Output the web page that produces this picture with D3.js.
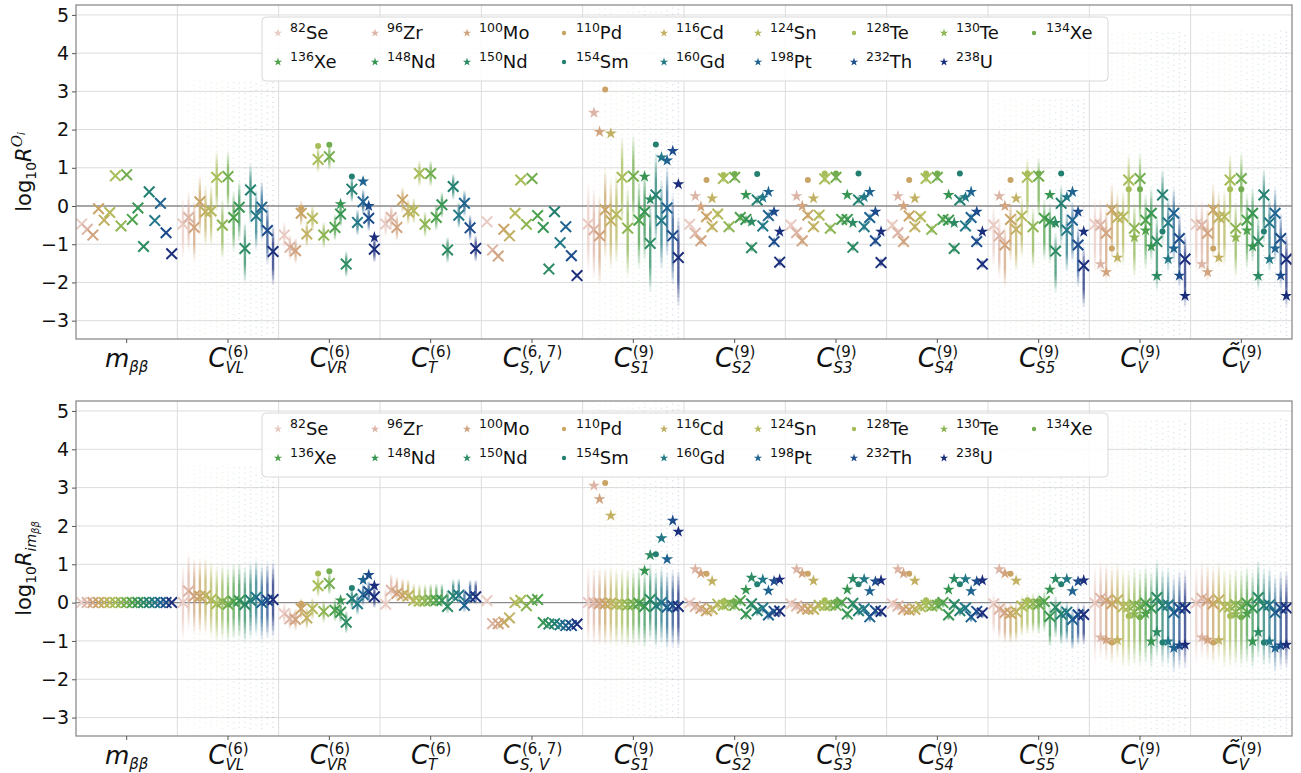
<!DOCTYPE html>
<html><head><meta charset="utf-8">
<script src="https://cdn.jsdelivr.net/npm/d3@7"></script>
<style>body{margin:0;background:#fff}svg{display:block}text{font-family:"DejaVu Sans",sans-serif;fill:#111}</style>
</head><body><svg id="c" width="1301" height="773"></svg>
<script>
// ---------- data ----------
const massNumbers = ["82","96","100","110","116","124","128","130","134","136","148","150","154","160","198","232","238"];
const elements    = ["Se","Zr","Mo","Pd","Cd","Sn","Te","Te","Xe","Xe","Nd","Nd","Sm","Gd","Pt","Th","U"];
const markerKinds = ["star","star","star","dot","star","star","dot","star","dot","star","star","star","dot","star","star","star","star"];
const isoColors   = ["#e9cbc3","#ddb5a6","#d1a47f","#c9a466","#c2b163","#b5b95b","#a6bd58","#8db552","#72ae4f","#4fa24c","#379552","#2c8b62","#238070","#227887","#1f6390","#1d4c8c","#1a2e7c"];
const operatorLabels = [
  {base:"m", sub:"ββ"},
  {base:"C", sup:"(6)", sub:"VL"},
  {base:"C", sup:"(6)", sub:"VR"},
  {base:"C", sup:"(6)", sub:"T"},
  {base:"C", sup:"(6, 7)", sub:"S, V"},
  {base:"C", sup:"(9)", sub:"S1"},
  {base:"C", sup:"(9)", sub:"S2"},
  {base:"C", sup:"(9)", sub:"S3"},
  {base:"C", sup:"(9)", sub:"S4"},
  {base:"C", sup:"(9)", sub:"S5"},
  {base:"C", sup:"(9)", sub:"V"},
  {base:"C\u0303", sup:"(9)", sub:"V"}
];
const yTicks = [-3,-2,-1,0,1,2,3,4,5];

// top panel: log10 R^{O_i}
const topMedians = [
  [-0.47,-0.61,-0.76,-0.07,-0.37,-0.17,0.79,-0.52,0.82,-0.35,-0.05,-1.06,0.37,-0.38,0.07,-0.70,-1.25],
  [-0.47,-0.30,-0.56,0.11,-0.15,-0.13,0.75,-0.50,0.77,-0.30,-0.03,-1.11,0.42,-0.26,-0.03,-0.64,-1.19],
  [-0.76,-1.08,-1.17,-0.19,-0.73,-0.32,1.22,-0.76,1.29,-0.56,-0.21,-1.52,0.44,-0.43,0.11,-0.32,-1.13],
  [-0.47,-0.30,-0.56,0.16,-0.15,-0.12,0.85,-0.48,0.85,-0.30,0.03,-1.15,0.51,-0.24,0.07,-0.57,-1.11],
  [-0.41,-1.15,-1.31,-0.61,-0.78,-0.19,0.68,-0.48,0.72,-0.25,-0.56,-1.65,-0.15,-0.96,-0.54,-1.30,-1.82],
  [-0.47,-0.62,-0.78,-0.10,-0.38,-0.22,0.75,-0.58,0.78,-0.37,-0.15,-0.98,0.29,-0.38,-0.05,-0.78,-1.35],
  [-0.48,-0.71,-0.91,-0.28,-0.54,-0.21,0.72,-0.54,0.75,-0.30,-0.35,-1.09,0.16,-0.52,-0.25,-0.93,-1.47],
  [-0.50,-0.70,-0.91,-0.24,-0.54,-0.24,0.71,-0.58,0.75,-0.35,-0.35,-1.08,0.16,-0.54,-0.30,-0.91,-1.48],
  [-0.50,-0.70,-0.93,-0.26,-0.54,-0.28,0.72,-0.61,0.75,-0.35,-0.37,-1.11,0.16,-0.52,-0.30,-0.93,-1.52],
  [-0.50,-0.78,-1.02,-0.35,-0.61,-0.26,0.75,-0.54,0.78,-0.32,-0.41,-1.18,0.07,-0.63,-0.37,-1.02,-1.56],
  [-0.48,-0.50,-0.71,-0.10,-0.30,-0.28,0.68,-0.58,0.72,-0.37,-0.19,-0.93,0.29,-0.44,-0.19,-0.85,-1.39],
  [-0.48,-0.50,-0.71,-0.10,-0.30,-0.28,0.68,-0.58,0.72,-0.37,-0.19,-0.93,0.29,-0.44,-0.19,-0.85,-1.39]
];
const topStars = [
  null, null,
  [null,null,null,-0.05,null,null,1.57,null,1.60,null,0.05,null,0.77,null,0.64,0.00,-0.82],
  null, null,
  [null,2.44,1.94,3.05,1.90,null,null,null,null,null,0.77,0.17,1.61,1.27,1.19,1.44,0.57],
  [null,0.26,-0.02,0.68,0.20,null,0.81,null,0.84,null,0.29,-0.41,0.84,0.22,0.37,-0.15,-0.67],
  [null,0.26,0.00,0.68,0.20,null,0.85,null,0.85,null,0.29,-0.44,0.85,0.23,0.37,-0.15,-0.67],
  [null,0.26,0.00,0.68,0.20,null,0.85,null,0.85,null,0.29,-0.44,0.85,0.23,0.37,-0.15,-0.67],
  [null,0.26,0.00,0.68,0.20,null,0.85,null,0.85,null,0.29,-0.44,0.85,0.23,0.37,-0.15,-0.67],
  [null,-1.52,-1.73,-1.11,-1.35,null,0.44,-0.82,0.44,-0.64,-1.06,-1.83,-0.67,-1.39,-1.11,-1.82,-2.35],
  [null,-1.52,-1.73,-1.11,-1.35,null,0.44,-0.82,0.44,-0.64,-1.06,-1.83,-0.67,-1.39,-1.11,-1.82,-2.35]
];
const topSpreadDown = [0,0.9,0.35,0.35,0.05,1.3,0.12,0.12,0.12,1.1,1.3,1.3];
const topSpreadUp   = [0,0.7,0.35,0.35,0.05,1.1,0.12,0.12,0.12,0.5,0.7,0.7];
const topCloudLo = [null,-3.4,null,null,null,-3.5,null,null,null,-3.4,-3.4,-3.4];
const topCloudHi = [null,3.3,null,null,null,5.2,null,null,null,2.8,4.6,4.6];

// bottom panel: log10 R_{i m_bb}
const botMedians = [
  [0,0,0,0,0,0,0,0,0,0,0,0,0,0,0,0,0],
  [0.00,0.30,0.17,0.16,0.18,0.08,-0.03,0.02,-0.04,0.03,0.05,-0.05,0.06,0.14,0.00,0.06,0.08],
  [-0.29,-0.42,-0.44,-0.16,-0.40,-0.16,0.44,-0.23,0.50,-0.20,-0.25,-0.51,0.10,-0.03,0.21,0.28,0.15],
  [-0.04,0.32,0.24,0.19,0.17,0.06,0.04,0.04,0.06,0.06,0.06,-0.10,0.17,0.19,-0.07,0.15,0.15],
  [0.05,-0.55,-0.55,-0.51,-0.40,0.00,0.06,-0.08,0.06,0.08,-0.52,-0.56,-0.55,-0.58,-0.60,-0.60,-0.56],
  [0.00,-0.01,-0.02,-0.03,-0.01,-0.05,-0.04,-0.06,-0.04,-0.02,-0.10,0.08,-0.08,0.00,-0.12,-0.08,-0.10],
  [-0.01,-0.10,-0.15,-0.21,-0.17,-0.04,-0.07,-0.02,-0.07,0.05,-0.30,-0.03,-0.21,-0.14,-0.32,-0.23,-0.22],
  [-0.03,-0.09,-0.15,-0.17,-0.17,-0.07,-0.08,-0.06,-0.07,0.00,-0.30,-0.02,-0.21,-0.16,-0.37,-0.21,-0.23],
  [-0.03,-0.09,-0.17,-0.19,-0.17,-0.11,-0.07,-0.09,-0.07,0.00,-0.32,-0.05,-0.21,-0.14,-0.37,-0.23,-0.27],
  [-0.03,-0.17,-0.26,-0.28,-0.24,-0.09,-0.04,-0.02,-0.04,0.03,-0.36,-0.12,-0.30,-0.25,-0.44,-0.32,-0.31],
  [-0.01,0.11,0.05,-0.03,0.07,-0.11,-0.11,-0.06,-0.10,-0.02,-0.14,0.13,-0.08,-0.06,-0.26,-0.15,-0.14],
  [-0.01,0.11,0.05,-0.03,0.07,-0.11,-0.11,-0.06,-0.10,-0.02,-0.14,0.13,-0.08,-0.06,-0.26,-0.15,-0.14]
];
const botStars = [
  null, null,
  [null,null,null,-0.03,null,null,0.76,null,0.82,null,0.06,null,0.38,null,0.59,0.72,0.44],
  null, null,
  [null,3.05,2.70,3.12,2.27,null,null,null,null,null,0.83,1.24,1.26,1.68,1.13,2.14,1.85],
  [null,0.87,0.76,0.75,0.56,null,0.02,null,0.02,null,0.33,0.65,0.48,0.60,0.31,0.56,0.60],
  [null,0.87,0.76,0.75,0.57,null,0.06,null,0.03,null,0.34,0.62,0.48,0.61,0.30,0.55,0.58],
  [null,0.87,0.76,0.75,0.57,null,0.06,null,0.03,null,0.34,0.62,0.48,0.61,0.30,0.55,0.58],
  [null,0.87,0.76,0.75,0.57,null,0.06,null,0.03,null,0.34,0.62,0.48,0.61,0.30,0.55,0.58],
  [null,-0.91,-0.97,-1.04,-0.98,null,-0.35,-0.30,-0.38,-0.29,-1.01,-0.77,-1.04,-1.01,-1.18,-1.12,-1.10],
  [null,-0.91,-0.97,-1.04,-0.98,null,-0.35,-0.30,-0.38,-0.29,-1.01,-0.77,-1.04,-1.01,-1.18,-1.12,-1.10]
];
const botSpreadDown = [0,1.0,0.3,0.2,0.05,1.1,0.15,0.15,0.15,0.8,1.6,1.6];
const botSpreadUp   = [0,1.0,0.3,0.45,0.05,0.95,0.1,0.1,0.1,0.3,1.0,1.0];
const botCloudLo = [null,-3.3,null,null,null,-3.0,null,null,null,-2.0,-3.4,-3.4];
const botCloudHi = [null,3.6,null,null,null,5.2,null,null,null,4.0,4.8,4.8];

// ---------- drawing ----------
const svg = d3.select("#c");
const defs = svg.append("defs");
isoColors.forEach((c,i)=>{
  const g = defs.append("linearGradient").attr("id","sg"+i).attr("x1",0).attr("y1",0).attr("x2",0).attr("y2",1);
  [[0,0],[0.3,0.75],[0.7,0.75],[1,0]].forEach(([o,a])=>g.append("stop").attr("offset",o).attr("stop-color",c).attr("stop-opacity",a));
});
const xLeft = 76, xRight = 1292;
const yDomain = [-3.48, 5.26];
const starPath = d3.symbol(d3.symbolStar, 44)();
const legendStar = d3.symbol(d3.symbolStar, 22)();

const panels = [
  {idx:0, top:5, bottom:339, med:topMedians, stars:topStars, dn:topSpreadDown, up:topSpreadUp, clo:topCloudLo, chi:topCloudHi, ylabel:"top"},
  {idx:1, top:401, bottom:736, med:botMedians, stars:botStars, dn:botSpreadDown, up:botSpreadUp, clo:botCloudLo, chi:botCloudHi, ylabel:"bot"}
];

function mathLabel(parent, cx, baseY, spec){
  const grp = parent.append("g");
  const isM = spec.base === "m";
  const bFont = isM ? 25 : 26;
  const base = grp.append("text").attr("x",0).attr("y",baseY).attr("font-size",bFont).attr("font-style","italic").text(spec.base);
  const bw = base.node().getComputedTextLength();
  let sw = 0;
  if (spec.sup){
    const t = grp.append("text").attr("x",bw+1).attr("y",baseY-10).attr("font-size",15).text(spec.sup);
    sw = Math.max(sw, t.node().getComputedTextLength());
  }
  if (spec.sub){
    const t = grp.append("text").attr("x",bw+(isM?0:-1)).attr("y",baseY+(isM?5:6)).attr("font-size",15).attr("font-style","italic").text(spec.sub);
    sw = Math.max(sw, t.node().getComputedTextLength());
  }
  const total = bw + sw;
  grp.attr("transform",`translate(${cx-total/2},0)`);
}

panels.forEach(p=>{
  const y = d3.scaleLinear().domain(yDomain).range([p.bottom, p.top]);
  const x = d3.scaleBand().domain(d3.range(operatorLabels.length)).range([xLeft, xRight]);
  const bw = x.bandwidth();
  const isoX = (g,i)=> x(g) + bw/2 + (i-8)/18*bw;
  const g = svg.append("g");
  const clipId = "clip"+p.idx;
  defs.append("clipPath").attr("id",clipId).append("rect")
    .attr("x",xLeft).attr("y",p.top).attr("width",xRight-xLeft).attr("height",p.bottom-p.top);

  // grid
  g.append("g").selectAll("line").data(yTicks.filter(d=>d!==0)).join("line")
    .attr("x1",xLeft).attr("x2",xRight).attr("y1",d=>y(d)).attr("y2",d=>y(d))
    .attr("stroke","#dcdcdc").attr("stroke-width",1);
  g.append("g").selectAll("line").data(d3.range(1,operatorLabels.length)).join("line")
    .attr("x1",d=>x(d)).attr("x2",d=>x(d)).attr("y1",p.top).attr("y2",p.bottom)
    .attr("stroke","#dcdcdc").attr("stroke-width",1);
  g.append("line").attr("x1",xLeft).attr("x2",xRight).attr("y1",y(0)).attr("y2",y(0))
    .attr("stroke","#8a8a8a").attr("stroke-width",1.3);

  const data = g.append("g").attr("clip-path",`url(#${clipId})`);
  const cloudG = data.append("g");
  const spreadG = data.append("g");
  const xG = data.append("g");
  const starG = data.append("g");
  const dashes = ["1.2,4.1","1.2,3.3","1.2,5.2","1.2,2.9","1.2,4.6","1.2,3.7"];
  p.med.forEach((row,gi)=>{
    row.forEach((m,i)=>{
      const cx = isoX(gi,i);
      if (p.clo[gi] !== null){
        cloudG.append("line").attr("x1",cx).attr("x2",cx)
          .attr("y1",y(p.chi[gi])).attr("y2",y(p.clo[gi]))
          .attr("stroke",isoColors[i]).attr("stroke-width",1.4)
          .attr("stroke-dasharray",dashes[(i+gi)%dashes.length]).attr("stroke-dashoffset",i*1.7)
          .attr("stroke-opacity",0.16);
      }
      const dn = p.dn[gi], up = p.up[gi];
      if (dn+up > 0.15){
        spreadG.append("rect").attr("x",cx-1.2).attr("width",2.4)
          .attr("y",y(m+up)).attr("height",y(m-dn)-y(m+up))
          .attr("fill",`url(#sg${i})`);
      } else if (dn+up > 0){
        spreadG.append("rect").attr("x",cx-1.1).attr("width",2.2)
          .attr("y",y(m+up)).attr("height",y(m-dn)-y(m+up))
          .attr("fill",isoColors[i]).attr("opacity",0.5);
      }
      const h = 5.3;
      xG.append("path").attr("d",`M${-h},${-h}L${h},${h}M${-h},${h}L${h},${-h}`)
        .attr("transform",`translate(${cx},${y(m)})`)
        .attr("stroke",isoColors[i]).attr("stroke-width",2).attr("fill","none");
      const sRow = p.stars[gi];
      if (sRow && sRow[i] !== null){
        if (markerKinds[i] === "dot"){
          starG.append("circle").attr("cx",cx).attr("cy",y(sRow[i])).attr("r",3).attr("fill",isoColors[i]);
        } else {
          starG.append("path").attr("d",starPath).attr("transform",`translate(${cx},${y(sRow[i])})`).attr("fill",isoColors[i]);
        }
      }
    });
  });

  // frame
  g.append("rect").attr("x",xLeft).attr("y",p.top).attr("width",xRight-xLeft).attr("height",p.bottom-p.top)
    .attr("fill","none").attr("stroke","#8c8c8c").attr("stroke-width",1.3);

  // axes
  const yAxis = d3.axisLeft(y).tickValues(yTicks).tickSize(4).tickPadding(3)
    .tickFormat(d=> d<0 ? "\u2212"+Math.abs(d) : String(d));
  const ya = g.append("g").attr("transform",`translate(${xLeft},0)`).call(yAxis);
  ya.select(".domain").remove();
  ya.selectAll(".tick line").attr("stroke","#555");
  ya.selectAll(".tick text").attr("font-size",19).attr("font-family","DejaVu Sans").attr("fill","#111");

  const xAxis = d3.axisBottom(x).tickSize(4).tickFormat("");
  const xa = g.append("g").attr("transform",`translate(0,${p.bottom})`).call(xAxis);
  xa.select(".domain").remove();
  xa.selectAll(".tick line").attr("stroke","#555");
  operatorLabels.forEach((spec,gi)=> mathLabel(g, x(gi)+bw/2, p.bottom+28, spec));

  // y label
  const midY = (p.top+p.bottom)/2;
  const yl = g.append("text").attr("transform",`translate(31,${midY}) rotate(-90)`).attr("text-anchor","middle").attr("font-size",21);
  yl.append("tspan").text("log");
  yl.append("tspan").attr("font-size",14).attr("dy",5).text("10");
  yl.append("tspan").attr("font-style","italic").attr("dy",-5).text("R");
  if (p.ylabel === "top"){
    yl.append("tspan").attr("font-size",15).attr("font-style","italic").attr("font-family","DejaVu Serif").attr("dy",-9).text("O");
    yl.append("tspan").attr("font-size",10).attr("font-style","italic").attr("dy",3).text("i");
  } else {
    yl.append("tspan").attr("font-size",14).attr("font-style","italic").attr("dy",5).text("im");
    yl.append("tspan").attr("font-size",10).attr("font-style","italic").attr("dy",3).text("ββ");
  }

  // legend
  const off = p.top - 5;
  const lg = g.append("g").attr("transform",`translate(0,${off})`);
  lg.append("rect").attr("x",262).attr("y",17).attr("width",846).attr("height",64).attr("rx",4)
    .attr("fill","#fff").attr("fill-opacity",0.85).attr("stroke","#d8d8d8");
  const colX = [278,375,467,564,664,758,854,944,1034];
  massNumbers.forEach((mn,i)=>{
    const row = i < 9 ? 0 : 1;
    const col = i < 9 ? i : i-9;
    const mx = colX[col], my = row===0 ? 33 : 62;
    if (markerKinds[i]==="dot"){
      lg.append("circle").attr("cx",mx).attr("cy",my).attr("r",2.2).attr("fill",isoColors[i]);
    } else {
      lg.append("path").attr("d",legendStar).attr("transform",`translate(${mx},${my})`).attr("fill",isoColors[i]);
    }
    const t = lg.append("text").attr("x",mx+12).attr("y",my+6).attr("font-size",18);
    t.append("tspan").attr("font-size",12.5).attr("dy",-7).text(mn);
    t.append("tspan").attr("dy",7).text(elements[i]);
  });
});
</script>
</body></html>
